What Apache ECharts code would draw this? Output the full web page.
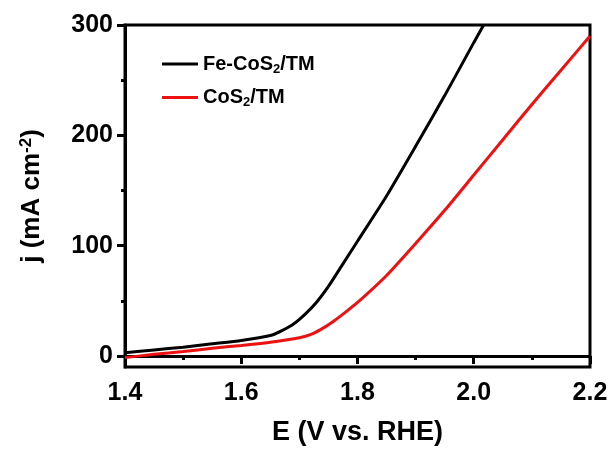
<!DOCTYPE html>
<html>
<head>
<meta charset="utf-8">
<script src="https://cdn.jsdelivr.net/npm/echarts@6/dist/echarts.min.js"></script>
<style>
  html, body { margin: 0; padding: 0; background: #fff; }
  #chart { width: 611px; height: 451px; }
</style>
</head>
<body>
<div id="chart"></div>
<script>
// potential (V vs. RHE) and current density (mA cm-2)
var feX = [1.40, 1.45, 1.50, 1.55, 1.60, 1.65, 1.67, 1.69, 1.71, 1.73, 1.75, 1.775, 1.80, 1.85, 1.90, 1.95, 2.00, 2.017]
var feY = [3, 5.5, 8, 11, 14, 18.5, 23, 29, 38, 49, 63, 83.5, 104, 145, 190, 236, 284, 300]
var coX = [1.40, 1.45, 1.50, 1.55, 1.60, 1.65, 1.70, 1.72, 1.74, 1.76, 1.78, 1.80, 1.85, 1.90, 1.95, 2.00, 2.05, 2.10, 2.15, 2.20]
var coY = [-1.5, 1.5, 4, 7, 9.5, 12.5, 16.5, 19.5, 25, 32, 40, 48.5, 73, 102, 132, 164, 196, 228, 259, 290]
var yTicks = [0, 100, 200, 300]
var yMinor = [50, 150, 250]

var font = 'Liberation Sans, Arial, sans-serif'

function pairs(xs, ys) {
    return xs.map(function (x, i) { return [x, ys[i]] })
}

var myChart = echarts.init(document.getElementById('chart'))

var options = {
    backgroundColor: '#fff',
    animation: false,
    grid: {
        left: 125, right: 21, top: 25, bottom: 82,
        show: true, borderColor: '#000', borderWidth: 3, backgroundColor: 'transparent'
    },
    legend: {
        orient: 'vertical',
        left: 157, top: 49,
        itemWidth: 36, itemHeight: 3, itemGap: 12,
        icon: 'rect',
        textStyle: {
            fontFamily: font, fontWeight: 'bold', fontSize: 20, color: '#000',
            rich: {
                a: { fontFamily: font, fontWeight: 'bold', fontSize: 20, color: '#000' },
                sub: { fontFamily: font, fontWeight: 'bold', fontSize: 13, color: '#000', verticalAlign: 'bottom', padding: [10, 0, 0, 0] }
            }
        },
        formatter: function (name) {
            if (name === 'Fe-CoS2/TM') return '{a|Fe-CoS}{sub|2}{a|/TM}'
            return '{a|CoS}{sub|2}{a|/TM}'
        },
        data: ['Fe-CoS2/TM', 'CoS2/TM']
    },
    xAxis: {
        type: 'value',
        min: 1.4, max: 2.2, interval: 0.2,
        name: 'E (V vs. RHE)',
        nameLocation: 'middle',
        nameGap: 52,
        nameTextStyle: { fontFamily: font, fontWeight: 'bold', fontSize: 27, color: '#000' },
        axisLine: { lineStyle: { color: '#000', width: 3 } },
        axisTick: { length: 8, lineStyle: { color: '#000', width: 3 } },
        minorTick: { show: true, splitNumber: 2, length: 4, lineStyle: { color: '#000', width: 3 } },
        axisLabel: {
            fontFamily: font, fontWeight: 'bold', fontSize: 25, color: '#000', margin: 14,
            formatter: function (v) { return v.toFixed(1) }
        },
        splitLine: { show: false }
    },
    yAxis: [{
        type: 'value',
        min: -10, max: 300,
        name: '{a|j (mA cm}{sup|-2}{a|)}',
        nameLocation: 'middle',
        nameRotate: 90,
        nameGap: 80,
        nameTextStyle: {
            rich: {
                a: { fontFamily: font, fontWeight: 'bold', fontSize: 26, color: '#000' },
                sup: { fontFamily: font, fontWeight: 'bold', fontSize: 17, color: '#000', verticalAlign: 'top', padding: [0, 0, 10, 0] }
            }
        },
        axisLine: { show: true, lineStyle: { color: '#000', width: 3 } },
        axisTick: { show: true, length: 8, customValues: yTicks, lineStyle: { color: '#000', width: 3 } },
        axisLabel: {
            customValues: yTicks,
            fontFamily: font, fontWeight: 'bold', fontSize: 25, color: '#000', margin: 12
        },
        splitLine: { show: false }
    }, {
        // minor ticks on the left axis
        type: 'value',
        position: 'left',
        min: -10, max: 300,
        axisLine: { show: false },
        axisTick: { show: true, length: 4, customValues: yMinor, lineStyle: { color: '#000', width: 3 } },
        axisLabel: { show: false },
        splitLine: { show: false }
    }],
    series: [{
        name: 'Fe-CoS2/TM',
        type: 'line',
        symbol: 'none',
        smooth: 0.2,
        color: '#000',
        lineStyle: { color: '#000', width: 3 },
        data: pairs(feX, feY)
    }, {
        name: 'CoS2/TM',
        type: 'line',
        symbol: 'none',
        smooth: 0.2,
        color: '#ee1111',
        lineStyle: { color: '#ee1111', width: 3 },
        data: pairs(coX, coY)
    }]
}

myChart.setOption(options)
</script>
</body>
</html>
